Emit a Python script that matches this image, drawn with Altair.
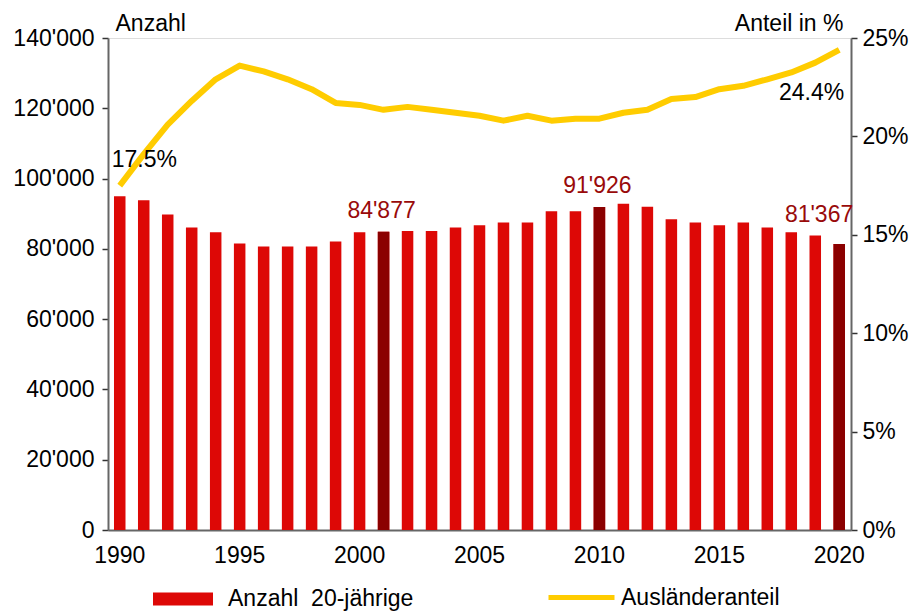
import altair as alt
import pandas as pd

years = list(range(1990, 2021))
anzahl = [95000, 93800, 89800, 86100, 84700, 81500, 80700, 80700, 80700, 82100,
          84700, 84877, 85100, 85100, 86100, 86700, 87500, 87500, 90700, 90700,
          91926, 92800, 92000, 88400, 87500, 86700, 87500, 86100, 84700, 83800,
          81367]
anteil = [17.5, 19.1, 20.6, 21.8, 22.9, 23.6, 23.3, 22.9, 22.4, 21.7,
          21.6, 21.35, 21.5, 21.35, 21.2, 21.05, 20.8, 21.05, 20.8, 20.9,
          20.9, 21.2, 21.35, 21.9, 22.0, 22.4, 22.57, 22.9, 23.25, 23.75,
          24.4]
highlight_years = [2001, 2010, 2020]
pct_label_years = [1990, 2020]

bar_name = "Anzahl\u00a0\u00a020-jährige"
line_name = "Ausländeranteil"

df = pd.DataFrame({"Jahr": years, "Anzahl": anzahl, "Anteil": anteil})
df["s1"] = bar_name
df["s2"] = line_name

FONT = "Liberation Sans"
FS = 23
RED = "#dd0806"
DARK = "#8b0000"
YEL = "#ffcc00"

xenc = alt.X("Jahr:O",
             scale=alt.Scale(paddingInner=0.52, paddingOuter=0.25),
             axis=alt.Axis(title=None, labelAngle=0, ticks=False,
                           labelExpr="datum.value % 5 == 0 ? datum.label : ''",
                           labelPadding=14, labelFontSize=FS, labelFont=FONT,
                           labelColor="black", domainColor="#666", domainWidth=2))

yleft = alt.Y("Anzahl:Q", scale=alt.Scale(domain=[0, 140000], nice=False),
              axis=alt.Axis(orient="left", values=list(range(0, 140001, 20000)),
                            labelExpr="replace(format(datum.value, ','), ',', \"'\")",
                            grid=False, tickSize=6, tickColor="#333", tickWidth=1.5,
                            labelPadding=8, labelFontSize=FS, labelFont=FONT,
                            labelColor="black", labelBaseline="middle",
                            domainColor="#666", domainWidth=2,
                            title="Anzahl", titleAngle=0, titleAlign="left",
                            titleBaseline="alphabetic", titleX=7, titleY=-8,
                            titleFontSize=FS, titleFont=FONT,
                            titleFontWeight="normal", titleColor="black"))

yright = alt.Y("Anteil:Q", scale=alt.Scale(domain=[0, 25], nice=False),
               axis=alt.Axis(orient="right", values=[0, 5, 10, 15, 20, 25],
                             labelExpr="datum.value + '%'",
                             grid=False, tickSize=6, tickColor="#333", tickWidth=1.5,
                             labelPadding=5, labelFontSize=FS, labelFont=FONT,
                             labelColor="black", labelBaseline="middle",
                             domainColor="#666", domainWidth=2,
                             title="Anteil in %", titleAngle=0, titleAlign="right",
                             titleBaseline="alphabetic", titleX=-8, titleY=-8,
                             titleFontSize=FS, titleFont=FONT,
                             titleFontWeight="normal", titleColor="black"))

base = alt.Chart(df)

bars = base.mark_bar().encode(
    x=xenc,
    y=yleft,
    color=alt.Color("s1:N", scale=alt.Scale(domain=[bar_name], range=[RED]),
                    legend=alt.Legend(orient="none", legendX=45, legendY=531,
                                      title=None,
                                      symbolType="M-1,-0.22H1V0.22H-1Z",
                                      symbolSize=3600, symbolStrokeWidth=0,
                                      symbolOpacity=1, labelLimit=500,
                                      labelFontSize=FS, labelFont=FONT,
                                      labelColor="black", labelOffset=15)),
)

hl = base.mark_bar(color=DARK).encode(
    x=xenc,
    y=yleft,
).transform_filter(alt.FieldOneOfPredicate(field="Jahr", oneOf=highlight_years))

lab_fmt = "replace(format(datum.Anzahl, ','), ',', \"'\")"

labels_c = base.mark_text(font=FONT, fontSize=FS, color="#990a0a", align="center",
                          baseline="alphabetic", dy=-14, dx=-2).encode(
    x=xenc,
    y=yleft,
    text="lab:N",
).transform_filter(alt.FieldOneOfPredicate(field="Jahr", oneOf=highlight_years[:2])
).transform_calculate(lab=lab_fmt)

labels_r = base.mark_text(font=FONT, fontSize=FS, color="#990a0a", align="right",
                          baseline="alphabetic", dy=-22, dx=14).encode(
    x=xenc,
    y=yleft,
    text="lab:N",
).transform_filter(alt.FieldOneOfPredicate(field="Jahr", oneOf=highlight_years[2:])
).transform_calculate(lab=lab_fmt)

line = base.mark_line(strokeWidth=6, strokeJoin="round").encode(
    x=xenc,
    y=yright,
    stroke=alt.Stroke("s2:N", scale=alt.Scale(domain=[line_name], range=[YEL]),
                      legend=alt.Legend(orient="none", legendX=438, legendY=524,
                                        title=None, symbolType="stroke",
                                        symbolSize=4356, symbolStrokeWidth=5,
                                        labelLimit=500,
                                        labelFontSize=FS, labelFont=FONT,
                                        labelColor="black", labelOffset=4)),
)

pct_fmt = "format(datum.Anteil, '.1f') + '%'"

pct_l = base.mark_text(font=FONT, fontSize=FS, color="black", align="left",
                       baseline="alphabetic", dx=-8, dy=-19).encode(
    x=xenc,
    y=yright,
    text="lab:N",
).transform_filter(alt.datum.Jahr == pct_label_years[0]).transform_calculate(lab=pct_fmt)

pct_r = base.mark_text(font=FONT, fontSize=FS, color="black", align="right",
                       baseline="alphabetic", dx=5, dy=50).encode(
    x=xenc,
    y=yright,
    text="lab:N",
).transform_filter(alt.datum.Jahr == pct_label_years[1]).transform_calculate(lab=pct_fmt)

left = alt.layer(bars, hl, labels_c, labels_r)
right = alt.layer(line, pct_l, pct_r)

chart = alt.layer(left, right).resolve_scale(y="independent").properties(
    width=743, height=492,
    padding={"left": 100, "top": 30, "right": 58, "bottom": 85},
    autosize=alt.AutoSizeParams(type="none"),
).configure_view(stroke="#888", strokeWidth=2).configure(background="white")

chart.save("out.html", embed_options={"renderer": "svg", "actions": False})
